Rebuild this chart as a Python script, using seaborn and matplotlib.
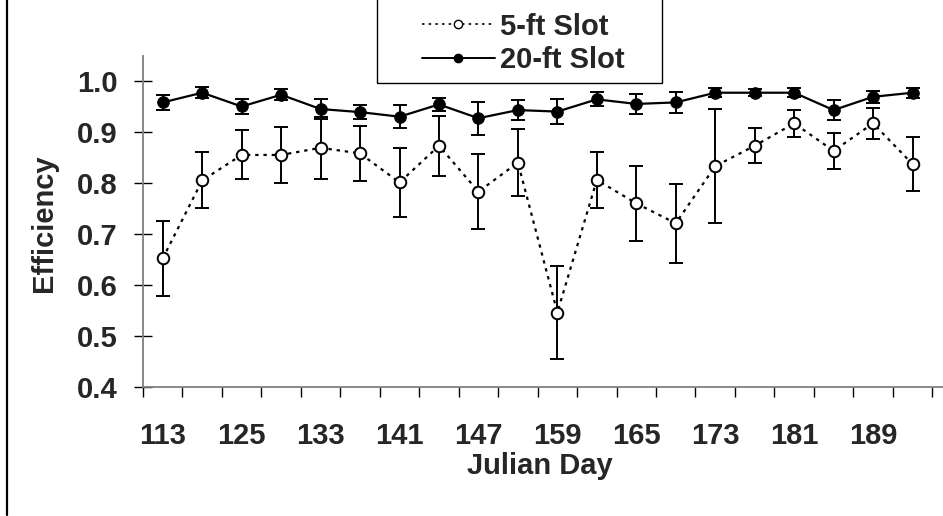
import numpy as np
import pandas as pd
import matplotlib
matplotlib.use("Agg")
import matplotlib.pyplot as plt
import seaborn as sns
from matplotlib.patches import Rectangle
from matplotlib.lines import Line2D
from matplotlib.ticker import FixedLocator, FormatStrFormatter

# ---- data ----
days = [113, 119, 125, 129, 133, 137, 141, 144, 147, 153,
        159, 162, 165, 169, 173, 177, 181, 185, 189, 193]
shown_labels = ["113", "125", "133", "141", "147", "159", "165", "173", "181", "189"]
eff_5ft = [0.652, 0.805, 0.855, 0.855, 0.869, 0.858, 0.801, 0.873, 0.783, 0.840,
           0.546, 0.806, 0.760, 0.721, 0.833, 0.873, 0.917, 0.863, 0.917, 0.837]
err_5ft = [0.074, 0.055, 0.048, 0.055, 0.061, 0.054, 0.067, 0.059, 0.073, 0.066,
           0.091, 0.055, 0.074, 0.078, 0.112, 0.034, 0.026, 0.036, 0.030, 0.053]
eff_20ft = [0.958, 0.977, 0.950, 0.973, 0.945, 0.939, 0.930, 0.954, 0.927, 0.943,
            0.940, 0.964, 0.955, 0.958, 0.977, 0.977, 0.977, 0.943, 0.969, 0.977]
err_20ft = [0.015, 0.011, 0.015, 0.011, 0.020, 0.013, 0.023, 0.013, 0.032, 0.020,
            0.024, 0.014, 0.019, 0.020, 0.009, 0.007, 0.009, 0.020, 0.012, 0.010]
series_names = ["5-ft Slot", "20-ft Slot"]
y_ticks = [0.4, 0.5, 0.6, 0.7, 0.8, 0.9, 1.0]

sns.set_theme(style="white")
plt.rcParams["font.family"] = ["Liberation Sans", "DejaVu Sans"]
plt.rcParams["font.weight"] = "bold"

FS = 21

pos = np.arange(len(days))
df5 = pd.DataFrame({"pos": pos, "day": days, "eff": eff_5ft, "err": err_5ft})
df20 = pd.DataFrame({"pos": pos, "day": days, "eff": eff_20ft, "err": err_20ft})

W, H = 943, 516
fig = plt.figure(figsize=(W / 100, H / 100), dpi=100)
ax = fig.add_axes([143 / W, 1 - 387 / H, (W - 143) / W, (387 - 56) / H])

# error bars
for d in (df5, df20):
    ax.errorbar(d["pos"], d["eff"], yerr=d["err"], fmt="none", ecolor="black",
                elinewidth=1.4, capsize=4.8, capthick=1.4, zorder=2)

sns.lineplot(data=df5, x="pos", y="eff", ax=ax, color="black", linewidth=1.6,
             linestyle=(0, (1.5, 2.2)), marker="o", markersize=8.3,
             markerfacecolor="white", markeredgecolor="black", markeredgewidth=1.4,
             zorder=3)
sns.lineplot(data=df20, x="pos", y="eff", ax=ax, color="black", linewidth=1.6,
             marker="o", markersize=8.3, markerfacecolor="black",
             markeredgecolor="black", zorder=4)

ax.set_xlim(-0.5, (W - 163) / 39.45)
ax.set_ylim(0.4, 1.049)

ax.set_xlabel("")
ax.set_ylabel("")

# x ticks
ax.xaxis.set_major_locator(FixedLocator(pos))
ax.set_xticklabels([shown_labels[i // 2] if i % 2 == 0 else "" for i in pos])
ax.xaxis.set_minor_locator(FixedLocator(np.arange(-0.5, len(days), 1.0)))
ax.tick_params(axis="x", which="major", direction="inout", length=11, width=1,
               color="black", pad=19.5, labelsize=FS)
ax.tick_params(axis="x", which="minor", direction="out", length=7.5, width=1,
               color="black", bottom=True)
# y ticks
ax.yaxis.set_major_locator(FixedLocator(y_ticks))
ax.yaxis.set_major_formatter(FormatStrFormatter("%.1f"))
ax.tick_params(axis="y", which="major", direction="inout", length=13, width=1,
               color="black", pad=12, labelsize=FS, left=True)
for lab in ax.get_xticklabels() + ax.get_yticklabels():
    lab.set_fontweight("bold")

for s in ["top", "right"]:
    ax.spines[s].set_visible(False)
for s in ["left", "bottom"]:
    ax.spines[s].set_color("#808080")
    ax.spines[s].set_linewidth(1.3)
ax.grid(False)

fig.text(44 / W, 1 - 223 / H, "Efficiency", rotation=90, ha="center", va="center",
         fontsize=FS, fontweight="bold")
fig.text(540 / W, 1 - 466 / H, "Julian Day", ha="center", va="center",
         fontsize=FS, fontweight="bold")

# legend
handles = [
    Line2D([], [], color="black", linestyle=(0, (1.5, 2.5)), linewidth=1.2,
           marker="o", markersize=6, markerfacecolor="white", markeredgecolor="black"),
    Line2D([], [], color="black", linestyle="-", linewidth=1.4,
           marker="o", markersize=6, markerfacecolor="black", markeredgecolor="black"),
]
fig.legend(handles, series_names, loc="upper left",
           bbox_to_anchor=(407 / W, 1 + 2 / H), frameon=False, borderpad=0,
           handlelength=2.5, handletextpad=0.2, labelspacing=0.2,
           prop={"size": FS, "weight": "bold"})
fig.add_artist(Rectangle((377 / W, 1 - 83 / H), 285 / W, 0.3, transform=fig.transFigure,
                         fill=False, edgecolor="black", linewidth=1.0))
fig.add_artist(Line2D([7 / W, 7 / W], [0.002, 1.0], transform=fig.transFigure,
                      color="black", linewidth=1.6))

fig.savefig("out.png", dpi=100)
